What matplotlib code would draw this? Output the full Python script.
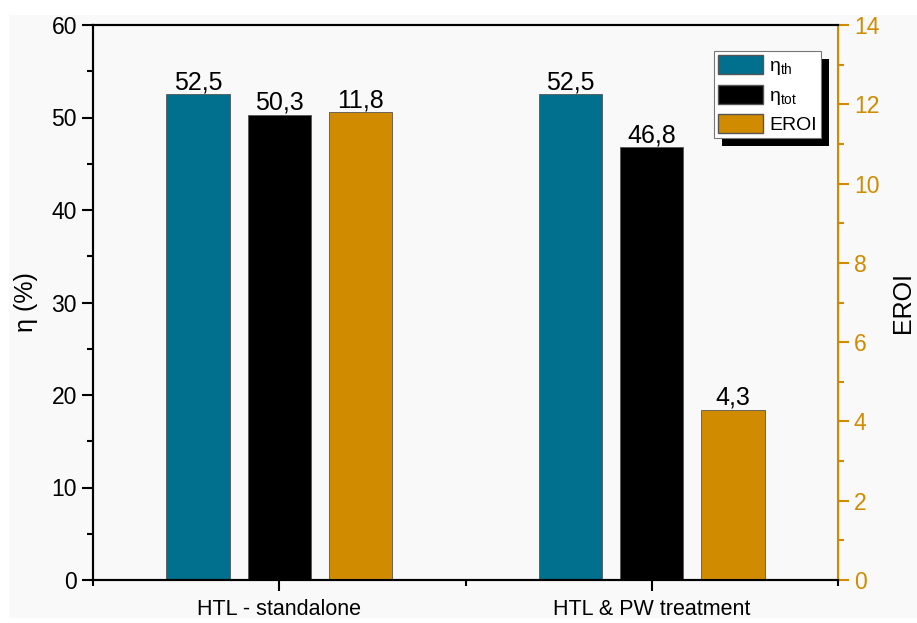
import matplotlib
matplotlib.use("Agg")
import matplotlib.pyplot as plt
from matplotlib.patches import Patch, Rectangle
from matplotlib.ticker import MultipleLocator
import matplotlib.patheffects as pe
import numpy as np

plt.rcParams['font.family'] = ['Liberation Sans', 'DejaVu Sans']

categories = ['HTL - standalone', 'HTL & PW treatment']
eta_th = [52.5, 52.5]
eta_tot = [50.3, 46.8]
eroi = [11.8, 4.3]
eta_th_labels = ['52,5', '52,5']
eta_tot_labels = ['50,3', '46,8']
eroi_labels = ['11,8', '4,3']

c_blue = '#00708f'
c_black = '#000000'
c_orange = '#d08b00'

fig = plt.figure(figsize=(9.17, 6.23), dpi=100)
fig.patch.set_facecolor('white')
# light grey panel behind the plot
fig.patches.append(Rectangle((9/917, 1-618/623), 1, (618-15)/623, transform=fig.transFigure,
                             facecolor='#f9f9f9', edgecolor='none', zorder=-10))

ax = fig.add_axes([93/917, 1-580/623, (838-93)/917, (580-25)/623])
ax.set_facecolor('#f9f9f9')
ax2 = ax.twinx()

x = np.arange(1, len(categories)+1)
w = 0.17
off = 0.218

b1 = ax.bar(x - off, eta_th, w, color=c_blue, edgecolor='#555555', linewidth=0.6)
b2 = ax.bar(x, eta_tot, w, color=c_black, edgecolor='#555555', linewidth=0.6)
b3 = ax2.bar(x + off, eroi, w, color=c_orange, edgecolor='#555555', linewidth=0.6)

for bars, labs, a in [(b1, eta_th_labels, ax), (b2, eta_tot_labels, ax), (b3, eroi_labels, ax2)]:
    for b, t in zip(bars, labs):
        a.annotate(t, (b.get_x() + b.get_width()/2, b.get_height()), xytext=(0, 0),
                   textcoords='offset points', ha='center', va='bottom', fontsize=18)

ax.set_xlim(0.5, 2.5)
ax.set_ylim(0, 60)
ax2.set_ylim(0, 14)
ax.set_xticks(x)
ax.set_xticklabels(categories, fontsize=15.5)
ax.xaxis.set_minor_locator(MultipleLocator(0.5))
ax.yaxis.set_major_locator(MultipleLocator(10))
ax.yaxis.set_minor_locator(MultipleLocator(5))
ax2.yaxis.set_major_locator(MultipleLocator(2))
ax2.yaxis.set_minor_locator(MultipleLocator(1))

ax.tick_params(axis='both', which='major', direction='out', length=8, width=1.5, labelsize=16.5)
ax.tick_params(axis='x', which='major', labelsize=15.5, pad=6)
ax.tick_params(axis='both', which='minor', direction='out', length=4, width=1.5)
ax2.tick_params(axis='y', which='major', direction='out', length=8, width=1.5, labelsize=16.5,
                colors=c_orange)
ax2.tick_params(axis='y', which='minor', direction='out', length=4, width=1.5, colors=c_orange)

for s in ['left', 'bottom', 'top']:
    ax.spines[s].set_linewidth(1.5)
    ax2.spines[s].set_linewidth(1.5)
ax2.spines['right'].set_color(c_orange)
ax2.spines['right'].set_linewidth(1.5)

ax.set_ylabel('η (%)', fontsize=18, labelpad=10)
ax2.set_ylabel('EROI', fontsize=18, labelpad=8)

handles = [Patch(facecolor=c_blue, edgecolor='#555555', label=r'$\mathregular{\eta_{th}}$'),
           Patch(facecolor=c_black, edgecolor='#555555', label=r'$\mathregular{\eta_{tot}}$'),
           Patch(facecolor=c_orange, edgecolor='#555555', label='EROI')]
leg = ax2.legend(handles=handles, loc='upper right', bbox_to_anchor=(821/917, 1-51/623),
                 bbox_transform=fig.transFigure, fontsize=14, fancybox=False,
                 framealpha=1, edgecolor='#777777', borderpad=0.2, handlelength=2.3,
                 handleheight=1.15, handletextpad=0.35, labelspacing=0.38, borderaxespad=0)
frame = leg.get_frame()
frame.set_linewidth(0.8)
frame.set_path_effects([pe.SimplePatchShadow(offset=(5.5, -5.5), shadow_rgbFace='black', alpha=1),
                        pe.Normal()])

fig.savefig('out.png', dpi=100, facecolor='white')
